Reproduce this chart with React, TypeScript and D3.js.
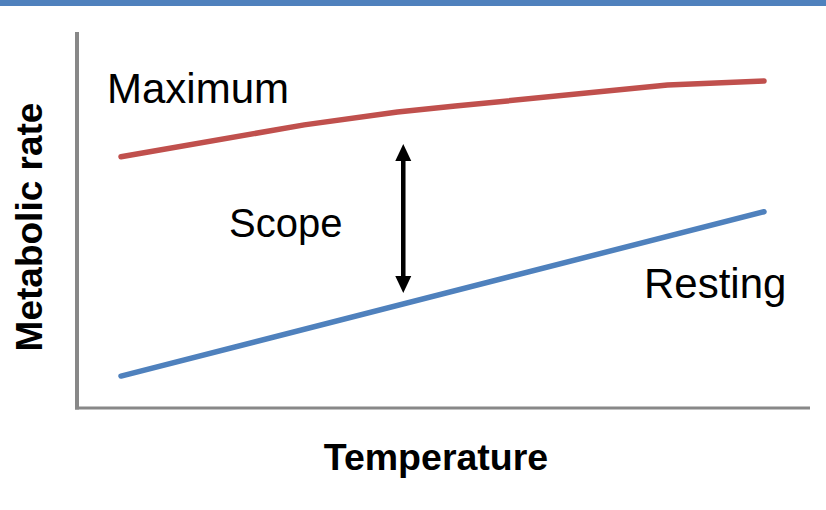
import React from "react";
import * as d3 from "d3";

// Temperature positions (arbitrary units) and metabolic rates (arbitrary units)
const maxTemps = [0, 2.85, 4.3, 5.2, 8.5, 10];
const maxRates = [66.8, 75.3, 78.7, 80.3, 85.9, 87.0];
const restTemps = [0, 10];
const restRates = [8.5, 52.2];
// The "scope" arrow sits at one temperature, spanning between two rates
const scopeTemp = 4.39;
const scopeRange = [30.6, 70.2];

const W = 826;
const H = 510;
const left = 77;
const right = 810;
const top = 32;
const bottom = 408;

export default function App() {
  const x = d3.scaleLinear().domain([0, 10]).range([121, 764]);
  const y = d3.scaleLinear().domain([0, 100]).range([bottom, top]);

  const line = d3
    .line<[number, number]>()
    .x((d) => x(d[0]))
    .y((d) => y(d[1]));

  const maxPts = maxTemps.map((t, i) => [t, maxRates[i]] as [number, number]);
  const restPts = restTemps.map((t, i) => [t, restRates[i]] as [number, number]);

  const ax = x(scopeTemp);
  const yTop = y(scopeRange[1]);
  const yBot = y(scopeRange[0]);
  const headH = 17;
  const headW = 8;

  return (
    <svg
      width={W}
      height={H}
      style={{ position: "absolute", left: 0, top: 0, background: "#fff" }}
      fontFamily="'Liberation Sans', Arial, sans-serif"
    >
      <rect x={0} y={0} width={W} height={6} fill="#4F81BD" />

      {/* axes */}
      <line x1={left} y1={top} x2={left} y2={bottom + 1.5} stroke="#888" strokeWidth={4} />
      <line x1={left - 2} y1={bottom} x2={right} y2={bottom} stroke="#888" strokeWidth={3} />

      <path d={line(maxPts) ?? ""} fill="none" stroke="#C0504D" strokeWidth={5.5} strokeLinecap="round" strokeLinejoin="round" />
      <path d={line(restPts) ?? ""} fill="none" stroke="#4F81BD" strokeWidth={5.5} strokeLinecap="round" strokeLinejoin="round" />

      {/* scope arrow */}
      <line x1={ax} y1={yTop + headH - 1} x2={ax} y2={yBot - headH + 1} stroke="#000" strokeWidth={4.5} />
      <path d={`M${ax},${yTop} L${ax + headW},${yTop + headH} L${ax - headW},${yTop + headH} Z`} fill="#000" />
      <path d={`M${ax},${yBot} L${ax + headW},${yBot - headH} L${ax - headW},${yBot - headH} Z`} fill="#000" />

      <text x={107} y={103} fontSize={42} fill="#000">Maximum</text>
      <text x={229} y={237} fontSize={40} fill="#000">Scope</text>
      <text x={644} y={298} fontSize={42} fill="#000">Resting</text>

      <text x={436} y={470} fontSize={37.5} fontWeight="bold" textAnchor="middle" fill="#000">Temperature</text>
      <text
        transform={`translate(42,227) rotate(-90)`}
        fontSize={37}
        fontWeight="bold"
        textAnchor="middle"
        fill="#000"
      >
        Metabolic rate
      </text>
    </svg>
  );
}
